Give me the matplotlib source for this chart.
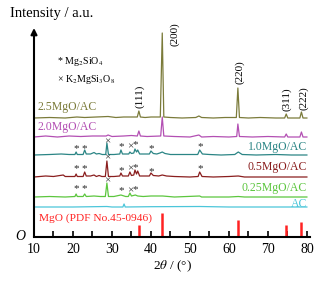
import matplotlib
matplotlib.use("Agg")
import matplotlib.pyplot as plt
from matplotlib.ticker import MultipleLocator

plt.rcParams['font.family'] = ['Liberation Serif', 'DejaVu Serif']
plt.rcParams['mathtext.fontset'] = 'stix'

# (2theta, intensity above own baseline)
mg25 = [(10, 0), (14, 0.5), (18, 0), (21, 1), (23, 0.5), (26, 1), (29, 1.5), (31, 0.5),
        (33, 1), (35, 1), (36.5, 1), (36.9, 7), (37.3, 1), (38.5, 0.5), (40, 1), (42.4, 1),
        (42.9, 85), (43.3, 1), (45, 0.5), (48, 0), (51.5, 0.5), (52.3, 2), (53, 0.5), (56, 0),
        (59, 0.5), (61.9, 0.5), (62.3, 30), (62.7, 0.5), (65, 0), (68, 0.5), (72, 0),
        (74.3, 0), (74.7, 4), (75.1, 0), (78.2, 0), (78.6, 6), (79, 0), (80, 0)]
mg20 = [(10, 0), (13, 1), (16, 0), (19, 1), (22, 0.5), (25, 1), (28.5, 1), (29, 2), (30, 0.5),
        (33, 1), (35, 1.5), (36.5, 1), (36.9, 6), (37.3, 1), (39, 0.5), (42.5, 1), (42.9, 20),
        (43.3, 1), (46, 0.5), (50, 0), (52.3, 2), (53, 0), (56, 0.5), (60, 0), (62.0, 0.5),
        (62.3, 13), (62.7, 0.5), (66, 0), (70, 0.5), (74.3, 0), (74.7, 3), (75.1, 0),
        (78.2, 0), (78.6, 5), (79, 0), (80, 0)]
mg10 = [(10, 0), (14, 0.5), (17, 1), (19, 0.5), (20.5, 0.5), (20.8, 3), (21.1, 0.5), (22.6, 0.5),
        (23.0, 5), (23.4, 1), (24.5, 1), (25.4, 2.5), (26, 1), (26.7, 1.5), (27.5, 0.5),
        (28.4, 0.5), (28.7, 12), (29.1, 0.5), (30.5, 0.5), (32.0, 1), (32.3, 5), (32.7, 1),
        (33.5, 1), (34.3, 1), (34.6, 3), (35.0, 1.5), (35.6, 2), (35.9, 6), (36.3, 3),
        (36.6, 5), (37.1, 1), (38.5, 1), (39.6, 1), (40, 4), (40.6, 1.5), (41.5, 1), (42.3, 2),
        (42.9, 3), (43.6, 1.5), (45, 0.5), (48, 0.5), (52.0, 0.5), (52.5, 5), (53.2, 1),
        (55, 0.5), (58, 0), (61.5, 0.5), (62.4, 3), (63.4, 0.5), (67, 0), (72, 0.5), (76, 0), (80, 0)]
mg05 = [(10, 0), (13, 1), (15, 0.5), (17.5, 2), (18, 0.5), (20.5, 0.5), (20.8, 3), (21.1, 0.5),
        (22.6, 0.5), (23.0, 5), (23.4, 1), (24.5, 1), (25.4, 2), (26, 0.5), (26.7, 1.5),
        (27.4, 0.5), (28.3, 0.5), (28.7, 16), (29.1, 0.5), (30.5, 0.5), (32.0, 1), (32.3, 4),
        (32.7, 1), (34.2, 1), (34.6, 5), (35.0, 1.5), (35.6, 2), (35.9, 7), (36.3, 3), (36.6, 6),
        (37.1, 1), (38.5, 1), (39.6, 1), (40, 4), (40.6, 1.5), (42, 1), (42.9, 2), (44, 1),
        (46, 0.5), (50, 0), (52.1, 0.5), (52.5, 5), (53.1, 0.5), (56, 0), (60, 0.5), (62.4, 1),
        (64, 0), (70, 0), (80, 0)]
mg025 = [(10, 0), (14, 0.5), (18, 0), (20.5, 0.5), (20.8, 3), (21.1, 0.5), (22.6, 0.5), (23.0, 3),
         (23.4, 0.5), (25.4, 1), (27, 0.5), (28.3, 0.5), (28.7, 14), (29.1, 0.5), (30.5, 0.5),
         (32.3, 2), (33.5, 0.5), (34.2, 0.5), (34.6, 4), (35.0, 1), (36, 2), (36.6, 1), (38, 0.5),
         (40, 1), (43, 1), (46, 0), (52.5, 1), (53, 0), (60, 0), (62.4, 0.5), (64, 0), (80, 0)]
ac = [(10, 0), (20, 0), (28.7, 0.5), (30, 0), (32.8, 0), (33.1, 3), (33.4, 0), (40, 0.3),
      (52.5, 0.5), (60, 0), (80, 0)]

names = ['2.5MgO/AC', '2.0MgO/AC', '1.0MgO/AC', '0.5MgO/AC', '0.25MgO/AC', 'AC']
patterns = [mg25, mg20, mg10, mg05, mg025, ac]
offsets = [119, 100, 82, 60, 40, 30]
colors = ['#7b7b3a', '#b34fb3', '#2b8585', '#8a1e1e', '#5cc63e', '#4cc6da']

# MgO reference (PDF No.45-0946)
ref_pos = [36.9, 42.9, 62.3, 74.7, 78.6]
ref_int = [12, 24, 17, 12, 15]
hkl = ['(111)', '(200)', '(220)', '(311)', '(222)']
hkl_x = [37.2, 46.2, 62.8, 74.9, 79.2]
hkl_y = [141, 203, 165, 138, 139]

# phase marks: (2theta, y, symbol)
marks10 = [(20.8, 88), (23.0, 88), (28.7, 95, 'x'), (32.3, 90), (34.6, 90, 'x'), (36.0, 92),
           (40.0, 88), (52.6, 90)]
marks05 = [(20.8, 68), (23.0, 68), (28.7, 79, 'x'), (32.3, 66), (34.6, 68, 'x'), (36.0, 69),
           (40.0, 65), (52.6, 68)]
marks025 = [(20.8, 48), (23.0, 48), (28.7, 56, 'x'), (32.3, 46), (34.6, 46, 'x'), (36.0, 47)]

fig = plt.figure(figsize=(3.27, 2.81), dpi=100)
ax = fig.add_axes([34 / 327, 44 / 281, 276 / 327, 209 / 281])

for pts, off, col in zip(patterns, offsets, colors):
    ax.plot([p[0] for p in pts], [p[1] + off for p in pts], color=col, lw=0.9)

ax.vlines(ref_pos, 0, ref_int, color='#ff2222', lw=1.8)

for marks in (marks10, marks05, marks025):
    for m in marks:
        sym = '×' if len(m) > 2 else '*'
        ax.text(m[0], m[1], sym, ha='center', va='center', fontsize=8, color='#2a2a2a')

for t, x, y in zip(hkl, hkl_x, hkl_y):
    ax.text(x, y, t, rotation=90, ha='center', va='center', fontsize=8)

lab_kw = dict(fontsize=8.5, va='center')
ax.text(11.0, 130, names[0], color=colors[0], ha='left', **lab_kw)
ax.text(11.0, 110, names[1], color=colors[1], ha='left', **lab_kw)
ax.text(80, 90, names[2], color=colors[2], ha='right', **lab_kw)
ax.text(80, 70, names[3], color=colors[3], ha='right', **lab_kw)
ax.text(80, 49, names[4], color=colors[4], ha='right', **lab_kw)
ax.text(80, 33, names[5], color=colors[5], ha='right', **lab_kw)
ax.text(11.3, 19, 'MgO (PDF No.45-0946)', color='#ff2222', ha='left', fontsize=8.2, va='center')

ax.text(16.0, 175, '* Mg$_2$SiO$_4$', ha='left', va='center', fontsize=7.2)
ax.text(16.0, 157, '× K$_2$MgSi$_3$O$_8$', ha='left', va='center', fontsize=7.2)

ax.set_xlim(10, 80.8)
ax.set_ylim(0, 209)
for s in ('top', 'right', 'left'):
    ax.spines[s].set_visible(False)
ax.spines['bottom'].set_linewidth(1.5)
ax.set_yticks([])
ax.xaxis.set_major_locator(MultipleLocator(10))
ax.xaxis.set_minor_locator(MultipleLocator(5))
ax.tick_params(axis='x', which='both', direction='in', length=4, width=1.2, labelsize=10, pad=4)
ax.set_xticks(range(10, 81, 10))

ax.annotate('', xy=(0, 1.0), xytext=(0, 0), xycoords='axes fraction',
            arrowprops=dict(arrowstyle='-|>', lw=1.5, color='black',
                            mutation_scale=9, shrinkA=0, shrinkB=0))

fig.text(10 / 327, 1 - 14 / 281, 'Intensity / a.u.', fontsize=10.5, va='center', ha='left')
fig.text(20 / 327, 1 - 237 / 281, 'O', fontsize=10, style='italic', va='center', ha='center')
fig.text(172 / 327, 1 - 266 / 281, '2$\\theta$ / (°)', fontsize=9.5, va='center', ha='center')

fig.savefig('out.png', dpi=100)
